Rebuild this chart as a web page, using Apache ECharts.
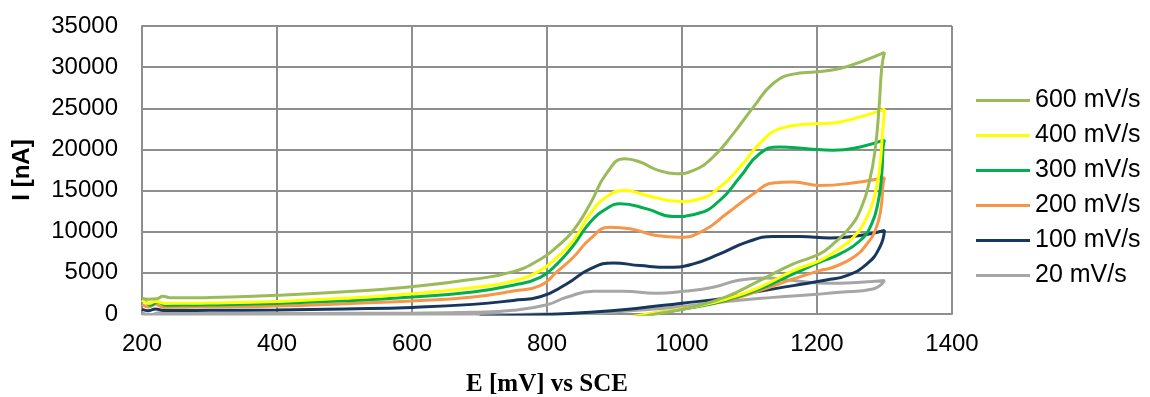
<!DOCTYPE html>
<html>
<head>
<meta charset="utf-8">
<script src="https://cdn.jsdelivr.net/npm/echarts@6/dist/echarts.min.js"></script>
<style>
  html, body { margin: 0; padding: 0; background: #fff; }
  #chart { width: 1150px; height: 397px; }
</style>
</head>
<body>
<div id="chart"></div>
<script>
// Cyclic voltammograms: forward scan 200 -> 1300 mV, then the return scan.
// Each entry is [E (mV vs SCE), I (nA)].
const scanRates = ['600 mV/s', '400 mV/s', '300 mV/s', '200 mV/s', '100 mV/s', '20 mV/s'];
const lineColors = ['#9BBB59', '#FFFF00', '#00B050', '#F79646', '#17375E', '#A6A6A6'];

const xTicks = { min: 200, max: 1400, step: 200 };
const yTicks = { min: 0, max: 35000, step: 5000 };

const cv600 = [
  [200, 1900], [210, 1800], [222, 1850], [231, 2150], [242, 1980], [270, 1960], [300, 2000],
  [400, 2270], [500, 2700], [600, 3320], [690, 4210], [750, 5150], [789, 6600], [814, 8120],
  [839, 10150], [864, 13400], [888, 17050], [915, 18870], [938, 18470], [962, 17540],
  [992, 17050], [1017, 17450], [1046, 19080], [1076, 21920], [1106, 25170], [1135, 28010],
  [1165, 29150], [1200, 29430], [1234, 29840], [1269, 30770], [1300, 31800],
  [1296, 30000], [1292, 25170], [1286, 19890], [1278, 16240], [1266, 12990], [1249, 10550],
  [1224, 8520], [1204, 7300], [1165, 6090], [1115, 4060], [1066, 2110], [1017, 890],
  [967, 80], [930, -500]
];

const cv400 = [
  [200, 1700], [210, 1290], [220, 1530], [234, 1290], [260, 1300], [300, 1330],
  [400, 1530], [500, 1900], [600, 2470], [690, 3200], [750, 4000], [790, 5300], [815, 6900],
  [839, 8930], [864, 12180], [888, 14210], [915, 15020], [948, 14410], [997, 13680],
  [1027, 14000], [1056, 15420], [1086, 17860], [1115, 20700], [1145, 22530], [1185, 23060],
  [1224, 23220], [1264, 23950], [1300, 24900],
  [1297, 21920], [1293, 17860], [1286, 14610], [1274, 11770], [1254, 9330], [1229, 7710],
  [1204, 6490], [1165, 5270], [1115, 3250], [1066, 1820], [1017, 890], [967, 200], [920, -400]
];

const cv300 = [
  [200, 1900], [208, 1300], [213, 1050], [223, 1460], [235, 1050], [260, 1080], [300, 1120],
  [400, 1290], [500, 1600], [600, 2070], [690, 2680], [750, 3500], [790, 4460], [815, 6100],
  [839, 8320], [864, 11160], [888, 12780], [908, 13390], [948, 12780], [987, 11850],
  [1022, 12180], [1056, 13800], [1086, 16640], [1115, 19480], [1145, 20300], [1185, 20090],
  [1224, 19890], [1264, 20300], [1300, 21150],
  [1298, 20300], [1296, 17050], [1291, 13800], [1281, 10960], [1264, 8930], [1234, 7300],
  [1204, 6290], [1165, 4870], [1115, 3040], [1066, 1700], [1017, 810], [967, 120], [930, -400]
];

const cv200 = [
  [200, 1170], [210, 850], [220, 1170], [232, 800], [260, 830], [300, 870],
  [400, 970], [500, 1250], [600, 1580], [690, 2070], [750, 2800], [790, 3450], [815, 5150],
  [839, 6900], [864, 9130], [893, 10550], [923, 10350], [962, 9540], [997, 9330],
  [1032, 10150], [1066, 12180], [1106, 14610], [1135, 15910], [1165, 16030], [1204, 15630],
  [1244, 15830], [1300, 16560],
  [1298, 15830], [1295, 12990], [1288, 10550], [1274, 8520], [1254, 6900], [1224, 5680],
  [1204, 5270], [1165, 4260], [1115, 2840], [1066, 1620], [1017, 810], [967, 200], [930, -300]
];

const cv100 = [
  [200, 560], [210, 400], [220, 620], [232, 420], [260, 430], [300, 450],
  [400, 490], [500, 620], [600, 800], [690, 1170], [750, 1650], [790, 2100], [829, 3650],
  [864, 5480], [898, 6210], [938, 5880], [982, 5680], [1017, 6090], [1056, 7300],
  [1096, 8730], [1135, 9420], [1175, 9420], [1220, 9250], [1264, 9540], [1300, 10150],
  [1293, 8110], [1274, 6090], [1244, 4660], [1214, 4140], [1165, 3450], [1106, 2630],
  [1066, 1950], [997, 1290], [938, 730], [864, 200], [800, -60], [700, -300]
];

const cv20 = [
  [200, 100], [215, -50], [225, 150], [240, 50], [300, 50], [400, 60], [500, 80],
  [600, 100], [690, 200], [750, 450], [800, 1130], [829, 2030], [869, 2760], [913, 2760],
  [962, 2520], [1002, 2760], [1046, 3250], [1086, 4140], [1125, 4380], [1165, 4060],
  [1215, 3730], [1264, 3850], [1300, 4060],
  [1283, 3040], [1234, 2630], [1200, 2400], [1135, 2020], [1066, 1530], [997, 890],
  [938, 490], [864, 80], [790, 0], [700, -100], [500, -150], [300, -150], [200, -100]
];

const curves = [cv600, cv400, cv300, cv200, cv100, cv20];

const gridColor = '#8E8E8E';
const plainNumber = (v) => String(v);

const chart = echarts.init(document.getElementById('chart'), null, { renderer: 'canvas' });

chart.setOption({
  animation: false,
  backgroundColor: '#ffffff',
  grid: { left: 142, top: 26, width: 810, height: 288, containLabel: false, outerBoundsMode: 'none' },
  legend: {
    orient: 'vertical',
    left: 971,
    top: 83,
    icon: 'rect',
    itemWidth: 54,
    itemHeight: 3,
    itemGap: 10,
    textStyle: { fontFamily: 'Liberation Sans, Arial, sans-serif', fontSize: 25, lineHeight: 24, color: '#000' },
    data: scanRates
  },
  xAxis: {
    type: 'value',
    min: xTicks.min,
    max: xTicks.max,
    interval: xTicks.step,
    name: 'E [mV] vs SCE',
    nameLocation: 'middle',
    nameGap: 58,
    nameTextStyle: { fontFamily: 'Liberation Serif, Times New Roman, serif', fontWeight: 'bold', fontSize: 25, color: '#000' },
    axisLine: { show: true, lineStyle: { color: gridColor, width: 2 } },
    axisTick: { show: false },
    axisLabel: { fontFamily: 'Liberation Sans, Arial, sans-serif', fontSize: 24, color: '#000', margin: 18, formatter: plainNumber },
    splitLine: { show: true, lineStyle: { color: gridColor, width: 2 } }
  },
  yAxis: {
    type: 'value',
    min: yTicks.min,
    max: yTicks.max,
    interval: yTicks.step,
    name: 'I [nA]',
    nameLocation: 'middle',
    nameGap: 108,
    nameRotate: 90,
    nameTextStyle: { fontFamily: 'Liberation Sans, Arial, sans-serif', fontWeight: 'bold', fontSize: 24, color: '#000' },
    axisLine: { show: true, lineStyle: { color: gridColor, width: 2 } },
    axisTick: { show: false },
    axisLabel: { fontFamily: 'Liberation Sans, Arial, sans-serif', fontSize: 24, color: '#000', margin: 24, formatter: plainNumber },
    splitLine: { show: true, lineStyle: { color: gridColor, width: 2 } }
  },
  series: scanRates.map((name, i) => ({
    name: name,
    type: 'line',
    data: curves[i],
    smooth: 0.5,
    symbol: 'none',
    showSymbol: false,
    clip: true,
    color: lineColors[i],
    lineStyle: { color: lineColors[i], width: 3 },
    z: 10 - i
  }))
});
</script>
</body>
</html>
